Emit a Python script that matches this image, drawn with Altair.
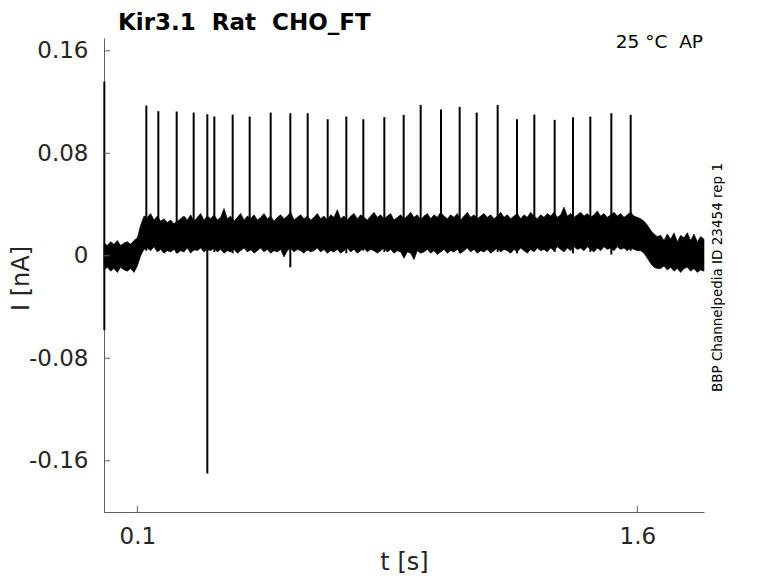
import altair as alt
import pandas as pd

# ---- sampled trace envelope (time in s, current in nA) ----
t_vals = [
    0.00, 0.01, 0.02, 0.03, 0.04, 0.05, 0.06, 0.07, 0.08, 0.09,
    0.10, 0.11, 0.12,
    0.13, 0.14, 0.15, 0.16, 0.17, 0.18, 0.19, 0.20, 0.21, 0.22,
    0.23, 0.24, 0.25, 0.26, 0.27, 0.28, 0.29, 0.30, 0.31, 0.32,
    0.33, 0.34, 0.35, 0.36, 0.37, 0.38, 0.39, 0.40, 0.41, 0.42,
    0.43, 0.44, 0.45, 0.46, 0.47, 0.48, 0.49, 0.50, 0.51, 0.52,
    0.53, 0.54, 0.55, 0.56, 0.57, 0.58, 0.59, 0.60, 0.61, 0.62,
    0.63, 0.64, 0.65, 0.66, 0.67, 0.68, 0.69, 0.70, 0.71, 0.72,
    0.73, 0.74, 0.75, 0.76, 0.77, 0.78, 0.79, 0.80, 0.81, 0.82,
    0.83, 0.84, 0.85, 0.86, 0.87, 0.88, 0.89, 0.90, 0.91, 0.92,
    0.93, 0.94, 0.95, 0.96, 0.97, 0.98, 0.99, 1.00, 1.01, 1.02,
    1.03, 1.04, 1.05, 1.06, 1.07, 1.08, 1.09, 1.10, 1.11, 1.12,
    1.13, 1.14, 1.15, 1.16, 1.17, 1.18, 1.19, 1.20, 1.21, 1.22,
    1.23, 1.24, 1.25, 1.26, 1.27, 1.28, 1.29, 1.30, 1.31, 1.32,
    1.33, 1.34, 1.35, 1.36, 1.37, 1.38, 1.39, 1.40, 1.41, 1.42,
    1.43, 1.44, 1.45, 1.46, 1.47, 1.48, 1.49, 1.50, 1.51, 1.52,
    1.53, 1.54, 1.55, 1.56, 1.57, 1.58, 1.59, 1.60,
    1.61, 1.62, 1.63, 1.64, 1.65, 1.66,
    1.67, 1.68, 1.69, 1.70, 1.71, 1.72, 1.73, 1.74, 1.75, 1.76,
    1.77, 1.78, 1.79, 1.80,
]
upper = [
    0.010, 0.008, 0.011, 0.009, 0.012, 0.008, 0.010, 0.011, 0.009, 0.012,
    0.014, 0.024, 0.031,
    0.030, 0.033, 0.028, 0.031, 0.027, 0.029, 0.026, 0.028, 0.025, 0.027,
    0.029, 0.031, 0.028, 0.032, 0.027, 0.030, 0.033, 0.028, 0.031, 0.029,
    0.032, 0.028, 0.030, 0.037, 0.029, 0.031, 0.027, 0.030, 0.033, 0.028,
    0.031, 0.029, 0.032, 0.028, 0.030, 0.033, 0.029, 0.031, 0.027, 0.030,
    0.032, 0.029, 0.031, 0.034, 0.028, 0.030, 0.032, 0.029, 0.031, 0.028,
    0.030, 0.033, 0.029, 0.031, 0.028, 0.032, 0.030, 0.036, 0.029, 0.031,
    0.028, 0.031, 0.033, 0.029, 0.032, 0.030, 0.028, 0.031, 0.034, 0.030,
    0.032, 0.029, 0.031, 0.033, 0.028, 0.030, 0.032, 0.029, 0.031, 0.034,
    0.030, 0.032, 0.028, 0.031, 0.033, 0.029, 0.032, 0.030, 0.034, 0.031,
    0.029, 0.032, 0.030, 0.033, 0.028, 0.031, 0.034, 0.030, 0.032, 0.029,
    0.031, 0.033, 0.030, 0.032, 0.029, 0.031, 0.034, 0.030, 0.032, 0.029,
    0.031, 0.033, 0.029, 0.032, 0.030, 0.034, 0.031, 0.029, 0.032, 0.030,
    0.033, 0.031, 0.034, 0.030, 0.032, 0.038, 0.031, 0.033, 0.030, 0.032,
    0.034, 0.031, 0.033, 0.030, 0.032, 0.035, 0.031, 0.033, 0.030, 0.032,
    0.034, 0.031, 0.033, 0.030, 0.032, 0.034, 0.031, 0.030,
    0.029, 0.027, 0.024, 0.020, 0.017, 0.015,
    0.016, 0.012, 0.017, 0.013, 0.018, 0.011, 0.016, 0.014, 0.018, 0.012,
    0.017, 0.011, 0.015, 0.013,
]
lower = [
    -0.011, -0.009, -0.012, -0.010, -0.013, -0.009, -0.011, -0.012, -0.010, -0.013,
    -0.008, 0.000, 0.005,
    0.006, 0.004, 0.007, 0.003, 0.005, 0.002, 0.004, 0.003, 0.005, 0.002,
    0.004, 0.003, 0.006, 0.002, 0.005, 0.004, 0.006, 0.003, 0.005, 0.004,
    0.006, 0.003, 0.005, 0.002, 0.004, 0.003, 0.005, 0.002, 0.004, 0.006,
    0.003, 0.005, 0.002, 0.004, 0.006, 0.003, 0.005, 0.002, 0.004, 0.003,
    0.005, -0.001, 0.004, 0.006, 0.003, 0.005, 0.004, 0.002, 0.005, 0.003,
    0.004, 0.006, 0.003, 0.005, 0.002, 0.004, 0.003, 0.005, 0.002, 0.004,
    0.006, 0.003, 0.005, 0.002, 0.004, 0.006, 0.003, 0.005, 0.004, 0.002,
    0.004, 0.006, 0.003, 0.005, 0.002, 0.004, 0.003, -0.002, 0.003, 0.002,
    -0.003, 0.004, 0.002, 0.003, 0.005, 0.002, 0.004, 0.001, 0.003, 0.005,
    0.002, 0.004, 0.003, 0.005, 0.002, 0.004, 0.006, 0.003, 0.005, 0.002,
    0.004, 0.003, 0.005, 0.002, 0.004, 0.006, 0.003, 0.005, 0.004, 0.002,
    0.005, 0.003, 0.006, 0.004, 0.002, 0.005, 0.003, 0.006, 0.004, 0.005,
    0.003, 0.006, 0.004, 0.007, 0.005, 0.003, 0.006, 0.004, 0.007, 0.005,
    0.006, 0.004, 0.007, 0.005, 0.003, 0.006, 0.004, 0.007, 0.005, 0.006,
    0.004, 0.007, 0.005, 0.006, 0.004, 0.006, 0.005, 0.004,
    0.004, 0.002, -0.002, -0.006, -0.009, -0.010,
    -0.010, -0.008, -0.011, -0.009, -0.012, -0.010, -0.013, -0.010, -0.009, -0.012,
    -0.010, -0.013, -0.011, -0.012,
]

# ---- action potential spikes ----
spike_t = [
    0.127, 0.163, 0.218, 0.269, 0.310, 0.331, 0.386, 0.437, 0.500, 0.559,
    0.611, 0.671, 0.727, 0.778, 0.841, 0.899, 0.950, 1.011, 1.067, 1.118,
    1.181, 1.239, 1.291, 1.352, 1.407, 1.459, 1.522, 1.580,
]
spike_peak = [
    0.1173, 0.1129, 0.1126, 0.1118, 0.1105, 0.1087, 0.1102, 0.1087, 0.1118, 0.1113,
    0.1113, 0.1066, 0.1087, 0.1066, 0.1082, 0.1100, 0.1178, 0.1141, 0.1162, 0.1118,
    0.1178, 0.1066, 0.1102, 0.1061, 0.1082, 0.1087, 0.1113, 0.1100,
]
spike_trough = [
    0.004, 0.004, 0.002, 0.004, -0.170, 0.003, 0.002, 0.004, 0.003, -0.009,
    0.004, 0.003, 0.002, 0.004, 0.003, 0.002, 0.004, 0.003, 0.002, 0.004,
    0.003, 0.002, 0.004, 0.003, 0.002, 0.003, 0.001, 0.004,
]

# ---- capacitive transient at the start ----
transient_t = [0.001]
transient_hi = [0.136]
transient_lo = [-0.058]

# ---- axes ----
x_ticks = [0.1, 1.6]
y_ticks = [-0.16, -0.08, 0.0, 0.08, 0.16]
x_domain = [0.0, 1.8]
y_domain = [-0.2, 0.17]

NB = "\u00a0"
title_text = f"Kir3.1{NB}{NB}Rat{NB}{NB}CHO_FT"
note_text = f"25 °C{NB}{NB}AP"
source_text = "BBP Channelpedia ID 23454 rep 1"

W, H = 600, 474
AX = "#5f5f5f"
LBL = "#262626"
FONT = "DejaVu Sans"

trace = pd.DataFrame({"t": t_vals, "upper": upper, "lower": lower})
spikes = pd.DataFrame({"t": spike_t, "peak": spike_peak, "trough": spike_trough})
trans = pd.DataFrame({"t": transient_t, "hi": transient_hi, "lo": transient_lo})
xt = pd.DataFrame({"t": x_ticks})
yt = pd.DataFrame({"v": y_ticks})

xscale = alt.Scale(domain=x_domain, nice=False, zero=False)
yscale = alt.Scale(domain=y_domain, nice=False, zero=False)

x_axis = alt.Axis(
    values=x_ticks, format=".1f", labelFontSize=23, labelColor=LBL,
    ticks=False, tickSize=0, labelPadding=13, domainColor=AX, domainWidth=1,
    grid=False, title="t [s]", titleFontSize=24, titleFontWeight="normal",
    titleColor=LBL, titleX=W / 2, titleY=50, titleAlign="center",
    titleBaseline="middle", labelFlush=False,
)
y_axis = alt.Axis(
    values=y_ticks,
    labelExpr="datum.value == 0 ? '0' : (datum.value < 0 ? '-' : '') + format(abs(datum.value), '.2f')",
    labelFontSize=23, labelColor=LBL, ticks=False, tickSize=0, labelPadding=16,
    domainColor=AX, domainWidth=1, grid=False, title="I [nA]", titleFontSize=24,
    titleFontWeight="normal", titleColor=LBL, titleAngle=270, titleX=-83,
    titleY=240, titleAlign="center", titleBaseline="middle", labelFlush=False,
)

band = alt.Chart(trace).mark_area(color="black", opacity=1, stroke="black", strokeWidth=0.6).encode(
    x=alt.X("t:Q", scale=xscale, axis=x_axis),
    y=alt.Y("upper:Q", scale=yscale, axis=y_axis),
    y2="lower:Q",
)

spike_rules = alt.Chart(spikes).mark_rule(color="black", strokeWidth=2).encode(
    x="t:Q", y="trough:Q", y2="peak:Q",
)

trans_rule = alt.Chart(trans).mark_rule(color="black", strokeWidth=2).encode(
    x="t:Q", y="lo:Q", y2="hi:Q",
)

ytick_marks = alt.Chart(yt).mark_rule(color=AX, strokeWidth=1).encode(
    y="v:Q", x=alt.value(0), x2=alt.value(6),
)
xtick_marks = alt.Chart(xt).mark_rule(color=AX, strokeWidth=1).encode(
    x="t:Q", y=alt.value(H), y2=alt.value(H - 6),
)

title_mark = alt.Chart(pd.DataFrame({"label": [title_text]})).mark_text(
    align="left", baseline="alphabetic", fontSize=23, fontWeight="bold", color="black", font=FONT,
).encode(x=alt.value(14), y=alt.value(-8), text="label:N")

note = alt.Chart(pd.DataFrame({"label": [note_text]})).mark_text(
    align="right", baseline="alphabetic", fontSize=18.5, color="black", font=FONT,
).encode(x=alt.value(599), y=alt.value(9.5), text="label:N")

source = alt.Chart(pd.DataFrame({"label": [source_text]})).mark_text(
    align="center", baseline="alphabetic", fontSize=13.5, color="black", angle=270, font=FONT,
).encode(x=alt.value(617.5), y=alt.value(239.5), text="label:N")

chart = alt.layer(
    band, spike_rules, trans_rule, ytick_marks, xtick_marks, title_mark, note, source
).properties(
    width=W, height=H,
    autosize=alt.AutoSizeParams(type="none"),
    padding={"left": 96, "top": 30, "right": 66, "bottom": 63},
).configure(font=FONT).configure_view(stroke=None)

chart.save("out.html", embed_options={"renderer": "svg", "actions": False})
